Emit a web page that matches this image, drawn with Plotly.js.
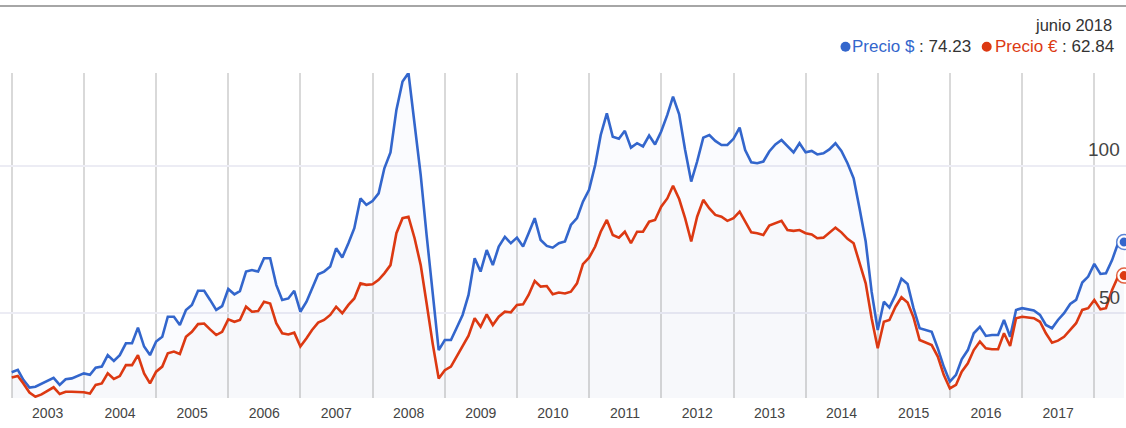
<!DOCTYPE html>
<html><head><meta charset="utf-8">
<script src="https://cdn.plot.ly/plotly-3.0.1.min.js"></script>
<style>html,body{margin:0;padding:0;background:#fff;} #chart{width:1126px;height:428px;}</style>
</head><body><div id="chart"></div>
<script>
// Monthly series, January 2003 .. June 2018
const firstYear = 2003;
const yearLabels = ['2003','2004','2005','2006','2007','2008','2009','2010','2011','2012','2013','2014','2015','2016','2017'];
const gridYears = ['2003','2004','2005','2006','2007','2008','2009','2010','2011','2012','2013','2014','2015','2016','2017','2018'];
const yTicks = [50, 100];
const seriesNames = ['Precio $', 'Precio €'];
const lastMonthLabel = 'junio 2018';

const precioUSD = [
  30.1, 30.9, 27.5, 24.9, 25.2, 26.3, 27.1, 28.2, 25.8, 27.7, 28.0, 28.9,
  29.7, 29.2, 31.6, 32.0, 35.9, 33.9, 35.9, 39.9, 39.9, 45.2, 38.8, 35.9,
  40.5, 42.1, 48.9, 48.9, 46.1, 51.2, 52.9, 57.7, 57.7, 54.6, 51.2, 52.5,
  58.3, 56.5, 57.6, 64.2, 64.7, 64.2, 68.7, 68.7, 59.7, 54.6, 55.1, 57.7,
  50.6, 54.0, 58.5, 63.3, 64.2, 65.9, 72.1, 69.0, 73.8, 78.9, 89.0, 86.8,
  88.1, 90.7, 99.2, 104.6, 119.0, 128.6, 131.5, 113.9, 96.9, 76.5, 55.6, 37.6,
  41.0, 41.0, 45.0, 49.5, 56.3, 68.7, 64.2, 71.5, 66.4, 72.7, 76.0, 73.8,
  75.7, 72.7, 77.2, 82.3, 74.9, 72.9, 72.3, 73.8, 74.4, 80.0, 82.3, 87.9,
  91.9, 100.3, 110.5, 117.8, 109.9, 109.2, 111.9, 106.2, 107.7, 106.6, 110.3, 107.3,
  111.7, 117.3, 123.5, 117.5, 105.5, 94.7, 101.5, 109.6, 110.5, 108.5, 107.1, 107.1,
  109.2, 113.0, 105.4, 101.2, 100.9, 101.5, 104.9, 107.3, 108.8, 106.6, 104.6, 107.7,
  104.6, 105.1, 103.9, 104.3, 105.6, 107.7, 105.1, 100.9, 95.8, 85.6, 74.4, 57.4,
  44.4, 54.0, 52.0, 56.3, 61.8, 60.0, 51.8, 45.0, 44.4, 43.8, 38.2, 32.0,
  26.9, 29.2, 34.5, 37.6, 43.3, 45.5, 42.4, 42.7, 42.7, 47.8, 42.1, 51.2,
  51.8, 51.4, 51.0, 49.5, 46.1, 45.0, 47.8, 50.1, 53.2, 54.6, 60.5, 62.5,
  66.8, 63.4, 63.6, 68.1, 73.8, 74.23
];

const precioEUR = [
  28.3, 28.8, 26.3, 23.2, 21.8, 22.6, 23.8, 25.0, 22.7, 23.5, 23.5, 23.5,
  23.3, 22.9, 25.8, 26.3, 29.7, 27.8, 28.8, 32.5, 32.5, 35.9, 29.7, 26.3,
  30.3, 32.0, 36.5, 37.1, 36.3, 42.1, 43.8, 46.4, 46.6, 44.6, 42.7, 43.8,
  48.0, 47.2, 47.8, 52.3, 50.6, 50.8, 54.0, 53.4, 46.7, 43.3, 42.9, 43.5,
  38.8, 41.6, 44.4, 46.9, 47.8, 49.5, 52.3, 50.1, 52.9, 55.1, 60.2, 59.7,
  59.9, 61.4, 63.6, 66.4, 77.2, 82.3, 82.8, 75.5, 66.4, 53.4, 39.6, 28.0,
  30.8, 32.0, 35.4, 38.8, 42.5, 48.4, 45.5, 49.7, 46.1, 48.9, 50.6, 50.4,
  52.9, 53.1, 56.3, 61.0, 59.1, 59.3, 56.5, 57.1, 56.8, 57.4, 60.2, 66.7,
  68.9, 72.7, 77.7, 81.7, 76.6, 75.7, 77.7, 73.8, 77.7, 77.7, 81.1, 81.7,
  86.2, 89.0, 93.3, 88.8, 82.3, 74.4, 82.8, 88.5, 85.6, 83.4, 82.8, 81.4,
  82.3, 84.5, 81.1, 77.5, 77.2, 76.6, 79.8, 80.6, 81.4, 78.3, 78.0, 78.3,
  77.2, 76.8, 75.5, 75.7, 77.4, 79.1, 77.5, 75.3, 73.8, 67.0, 60.2, 48.4,
  38.2, 47.2, 47.8, 52.3, 55.5, 53.7, 48.7, 41.0, 40.1, 39.3, 35.4, 29.2,
  24.6, 25.8, 30.3, 33.1, 37.6, 40.5, 38.2, 37.9, 37.9, 43.3, 39.0, 48.4,
  48.9, 48.7, 48.4, 47.2, 43.3, 40.1, 40.8, 42.1, 44.6, 46.7, 51.2, 51.8,
  54.6, 51.4, 51.8, 58.0, 62.5, 62.84
];

const BLUE = '#3366cc', RED = '#dc3912';
const FONT = 'Arial, "Liberation Sans", sans-serif';

const months = precioUSD.map((_, i) => {
  const y = firstYear + Math.floor(i / 12);
  const m = (i % 12) + 1;
  return y + '-' + String(m).padStart(2, '0') + '-01';
});
const last = months.length - 1;

// plot area in px: x 0..1126, y 73..398
const W = 1126, PT = 73, PB = 398, PH = PB - PT;
const px = v => v / W;
const py = v => (PB - v) / PH;

const traces = [
  {x: months, y: precioUSD, type: 'scatter', mode: 'none', fill: 'tozeroy',
   fillcolor: 'rgba(51,102,204,0.025)', hoverinfo: 'skip'},
  {x: months, y: precioEUR, type: 'scatter', mode: 'none', fill: 'tozeroy',
   fillcolor: 'rgba(110,110,120,0.025)', hoverinfo: 'skip'},
  {x: months, y: precioUSD, type: 'scatter', mode: 'lines', name: seriesNames[0],
   line: {color: BLUE, width: 2.6}},
  {x: months, y: precioEUR, type: 'scatter', mode: 'lines', name: seriesNames[1],
   line: {color: RED, width: 2.6}},
  {x: [months[last]], y: [precioUSD[last]], type: 'scatter', mode: 'markers', cliponaxis: false,
   marker: {size: 15, color: 'white', line: {color: 'rgba(51,102,204,0.8)', width: 1.5}}},
  {x: [months[last]], y: [precioUSD[last]], type: 'scatter', mode: 'markers', cliponaxis: false,
   marker: {size: 9, color: BLUE}},
  {x: [months[last]], y: [precioEUR[last]], type: 'scatter', mode: 'markers', cliponaxis: false,
   marker: {size: 15, color: 'white', line: {color: 'rgba(220,57,18,0.8)', width: 1.5}}},
  {x: [months[last]], y: [precioEUR[last]], type: 'scatter', mode: 'markers', cliponaxis: false,
   marker: {size: 9, color: RED}}
];

const annotations = [
  {xref: 'paper', yref: 'paper', x: px(1114), y: py(25), xanchor: 'right', yanchor: 'middle',
   text: lastMonthLabel, showarrow: false, font: {family: FONT, size: 16.5, color: '#333'}},
  {xref: 'paper', yref: 'paper', x: px(850), y: py(47), xanchor: 'left', yanchor: 'middle',
   text: '<span style="color:' + BLUE + '">' + seriesNames[0] + '</span> : ' + precioUSD[last].toFixed(2),
   showarrow: false, font: {family: FONT, size: 17, color: '#333'}},
  {xref: 'paper', yref: 'paper', x: px(993), y: py(47), xanchor: 'left', yanchor: 'middle',
   text: '<span style="color:' + RED + '">' + seriesNames[1] + '</span> : ' + precioEUR[last].toFixed(2),
   showarrow: false, font: {family: FONT, size: 17, color: '#333'}}
];
yTicks.forEach(t => annotations.push({
  xref: 'paper', yref: 'y', x: 1, y: t, xanchor: 'right', yanchor: 'middle', xshift: -4, yshift: 16,
  text: String(t), showarrow: false, font: {family: FONT, size: 19, color: '#444'}
}));

const shapes = [
  {type: 'line', xref: 'paper', yref: 'paper', x0: 0, x1: 1, y0: py(6), y1: py(6),
   line: {color: '#888', width: 1.5}},
  {type: 'circle', xref: 'paper', yref: 'paper', xsizemode: 'pixel', ysizemode: 'pixel',
   xanchor: px(845.5), yanchor: py(46.7), x0: -5, x1: 5, y0: -5, y1: 5,
   fillcolor: BLUE, line: {width: 0}},
  {type: 'circle', xref: 'paper', yref: 'paper', xsizemode: 'pixel', ysizemode: 'pixel',
   xanchor: px(986.7), yanchor: py(46.7), x0: -5, x1: 5, y0: -5, y1: 5,
   fillcolor: RED, line: {width: 0}}
];

const layout = {
  width: 1126, height: 428,
  margin: {l: 0, r: 0, t: PT, b: 428 - PB, pad: 0},
  paper_bgcolor: '#fff', plot_bgcolor: '#fff',
  showlegend: false, hovermode: false,
  xaxis: {
    type: 'date', range: ['2002-11-02 19:00', '2018-06-10 10:00'],
    tickmode: 'array', tickvals: yearLabels.map(y => y + '-07-02'), ticktext: yearLabels,
    showgrid: false, zeroline: false, showline: false, ticks: '',
    ticklabelstandoff: 5,
    tickfont: {family: FONT, size: 14, color: '#444'},
    minor: {tickmode: 'array', tickvals: gridYears.map(y => y + '-01-01'),
            showgrid: true, gridcolor: '#d9d9d9', gridwidth: 2, ticks: ''},
    fixedrange: true
  },
  yaxis: {
    range: [21.36, 131.5], tickmode: 'array', tickvals: yTicks,
    showticklabels: false, showgrid: true, gridcolor: '#ececf4', gridwidth: 2,
    zeroline: false, showline: false, ticks: '', fixedrange: true
  },
  annotations: annotations,
  shapes: shapes
};

Plotly.newPlot('chart', traces, layout, {displayModeBar: false, staticPlot: true});
</script>
</body></html>
